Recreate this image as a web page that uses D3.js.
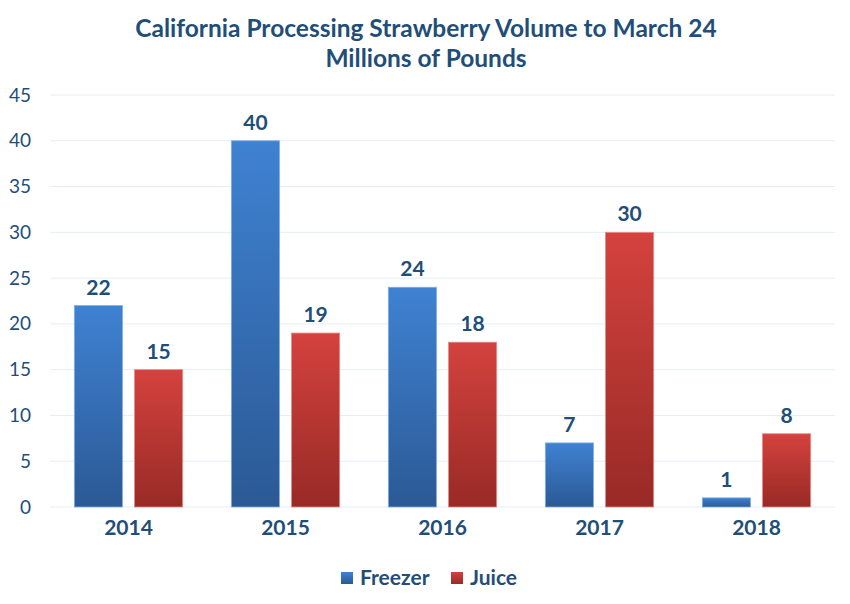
<!DOCTYPE html>
<html><head><meta charset="utf-8">
<script src="https://cdn.jsdelivr.net/npm/d3@7"></script>
<style>body{margin:0;background:#fff;}svg{display:block;font-family:Lato,"Open Sans",sans-serif;}</style>
</head><body>
<svg id="c" width="850" height="604"></svg>
<script>
const categories = ["2014","2015","2016","2017","2018"];
const seriesNames = ["Freezer","Juice"];
const freezer = [22,40,24,7,1];
const juice = [15,19,18,30,8];
const yTicks = [0,5,10,15,20,25,30,35,40,45];

const svg = d3.select("#c");
const txt = "#1f4e79";
const m = {l:50, r:835, t:95, b:507};
const x = d3.scaleBand().domain(categories).range([m.l,m.r]).paddingInner(0.31).paddingOuter(0.155);
const xs = d3.scaleBand().domain(seriesNames).range([0,x.bandwidth()]).paddingInner(0.2);
const y = d3.scaleLinear().domain([0,45]).range([m.b,m.t]);

const defs = svg.append("defs");
const grads = {Freezer:["#3f82d2","#2b5995"], Juice:["#d4423e","#982a26"]};
Object.entries(grads).forEach(([k,c])=>{
  const g = defs.append("linearGradient").attr("id","g"+k).attr("x1",0).attr("y1",0).attr("x2",0).attr("y2",1);
  g.append("stop").attr("offset","0%").attr("stop-color",c[0]);
  g.append("stop").attr("offset","100%").attr("stop-color",c[1]);
});

// title
svg.append("text").attr("x",426).attr("y",37).attr("text-anchor","middle").attr("fill",txt)
  .attr("font-size",24.5).attr("font-weight","bold").text("California Processing Strawberry Volume to March 24");
svg.append("text").attr("x",426).attr("y",67).attr("text-anchor","middle").attr("fill",txt)
  .attr("font-size",24.5).attr("font-weight","bold").text("Millions of Pounds");

// grid
svg.append("g").selectAll("line").data(yTicks).join("line")
  .attr("x1",m.l).attr("x2",m.r).attr("y1",d=>y(d)).attr("y2",d=>y(d))
  .attr("stroke","#e4eef8").attr("stroke-width",1);

// y axis
const ya = svg.append("g").attr("transform",`translate(${m.l},0)`)
  .call(d3.axisLeft(y).tickValues(yTicks).tickSize(0).tickPadding(19));
ya.select(".domain").remove();
ya.selectAll("text").attr("fill",txt).attr("font-size",19).attr("font-family","Lato,'Open Sans',sans-serif");

// x axis
const xa = svg.append("g").attr("transform",`translate(0,${m.b})`)
  .call(d3.axisBottom(x).tickSize(0).tickPadding(13));
xa.select(".domain").remove();
xa.selectAll("text").attr("fill",txt).attr("font-size",21).attr("font-weight","bold").attr("font-family","Lato,'Open Sans',sans-serif");

const data = categories.map((c,i)=>({cat:c, vals:[{s:"Freezer",v:freezer[i]},{s:"Juice",v:juice[i]}]}));
const grp = svg.append("g").selectAll("g").data(data).join("g")
  .attr("transform",d=>`translate(${x(d.cat)},0)`);
grp.selectAll("rect").data(d=>d.vals).join("rect")
  .attr("x",d=>xs(d.s)).attr("width",xs.bandwidth())
  .attr("y",d=>y(d.v)).attr("height",d=>y(0)-y(d.v))
  .attr("fill",d=>`url(#g${d.s})`)
  .attr("stroke",d=>d.s==="Freezer"?"#7fb0e6":"#e88a86").attr("stroke-width",0.8);
grp.selectAll("text.v").data(d=>d.vals).join("text").attr("class","v")
  .attr("x",d=>xs(d.s)+xs.bandwidth()/2).attr("y",d=>y(d.v)-11)
  .attr("text-anchor","middle").attr("fill",txt).attr("font-size",21).attr("font-weight","bold")
  .text(d=>d.v);

// legend
const leg = svg.append("g").attr("transform","translate(341,585)");
const items = [{s:"Freezer",x:0},{s:"Juice",x:110}];
items.forEach(it=>{
  leg.append("rect").attr("x",it.x).attr("y",-13).attr("width",12).attr("height",12)
    .attr("fill",`url(#g${it.s})`);
  leg.append("text").attr("x",it.x+19).attr("y",0).attr("fill",txt).attr("font-size",21)
    .attr("font-weight","bold").text(it.s);
});
</script>
</body></html>
